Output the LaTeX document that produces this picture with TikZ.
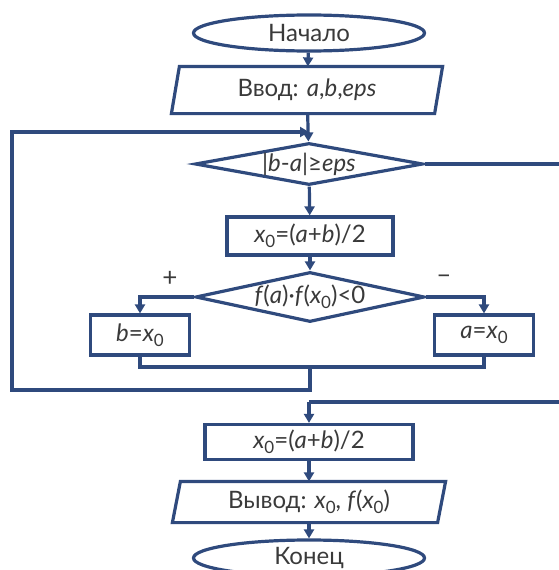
\documentclass[tikz,border=0pt]{standalone}
\usepackage{fontspec}
\setmainfont{Lato}
\usetikzlibrary{shapes.geometric,arrows.meta}
\definecolor{navy}{HTML}{2F4A7D}
\definecolor{txt}{HTML}{3A3A3A}
\newcommand\zsub[1]{\raisebox{-0.4ex}{\fontsize{17}{18}\selectfont #1}}
\begin{document}
\begin{tikzpicture}[x=1pt,y=-1pt,
  line width=3.2pt, draw=navy,
  every node/.style={text=txt, font=\fontsize{24}{26}\selectfont, inner sep=0pt},
  box/.style={draw=navy, rectangle},
  term/.style={draw=navy, ellipse},
  dec/.style={draw=navy, diamond, aspect=5},
  iobox/.style={rectangle},
  arr/.style={draw=navy, -{Triangle[length=9pt,width=10pt]}},
  con/.style={draw=navy},
  lab/.style={font=\fontsize{26}{28}\selectfont}]
\useasboundingbox (0,0) rectangle (558,570);

\node[term, minimum width=231pt, minimum height=36pt] (start) at (309,33) {Начало};
\node[iobox, minimum width=260pt, minimum height=44pt] (in) at (307,90) {Ввод: \textit{a},\textit{b},\textit{eps}};
\draw[con] ([xshift=4pt]in.north west) -- ([xshift=4pt]in.north east) -- ([xshift=-4pt]in.south east) -- ([xshift=-4pt]in.south west) -- cycle;
\node[dec, minimum width=228pt, minimum height=42pt] (d1) at (309,164) {|\textit{b}-\textit{a}|≥\textit{eps}};
\node[box, minimum width=166pt, minimum height=38pt] (c1) at (310,236) {\textit{x}\zsub{0}=(\textit{a}+\textit{b})/2};
\node[dec, minimum width=229pt, minimum height=50pt] (d2) at (310,297) {\textit{f}(\textit{a})·\textit{f}(\textit{x}\zsub{0})<0};
\node[box, minimum width=99pt, minimum height=40pt] (bl) at (140,335) {\textit{b}=\textit{x}\zsub{0}};
\node[box, minimum width=99pt, minimum height=40pt] (br) at (484,335) {\textit{a}=\textit{x}\zsub{0}};
\node[box, minimum width=208pt, minimum height=35pt] (c2) at (309,442) {\textit{x}\zsub{0}=(\textit{a}+\textit{b})/2};
\node[iobox, minimum width=262pt, minimum height=38pt] (out) at (309,502) {Вывод: \textit{x}\zsub{0}, \textit{f}(\textit{x}\zsub{0})};
\draw[con] ([xshift=4pt]out.north west) -- ([xshift=4pt]out.north east) -- ([xshift=-4pt]out.south east) -- ([xshift=-4pt]out.south west) -- cycle;
\node[term, minimum width=231pt, minimum height=36pt] (end) at (309,558) {Конец};

\node[lab] (plus) at (170,279) {+};
\node[lab] (minus) at (444,279) {–};

\coordinate (loopin) at (309,132);
\coordinate (merge) at (310,367);
\coordinate (rtop) at (566,164);
\coordinate (rbot) at (566,402);
\coordinate (join) at (309,402);

\draw[arr] (start) -- (in);
\draw[arr] (in) -- (d1);
\draw[arr] (d1) -- (c1);
\draw[arr] (c1) -- (d2);
\draw[arr] (d2.west) -| (bl.north);
\draw[arr] (d2.east) -| (br.north);
\draw[con] (bl.south) |- (merge) -| (br.south);
\draw[arr] (merge) -- (310,390) -| (12,132) -- (loopin);
\draw[con] (d1.east) -- (rtop) -- (rbot) -- (join);
\draw[arr] (join) -- (c2);
\draw[arr] (c2) -- (out);
\draw[arr] (out) -- (end);
\end{tikzpicture}
\end{document}
